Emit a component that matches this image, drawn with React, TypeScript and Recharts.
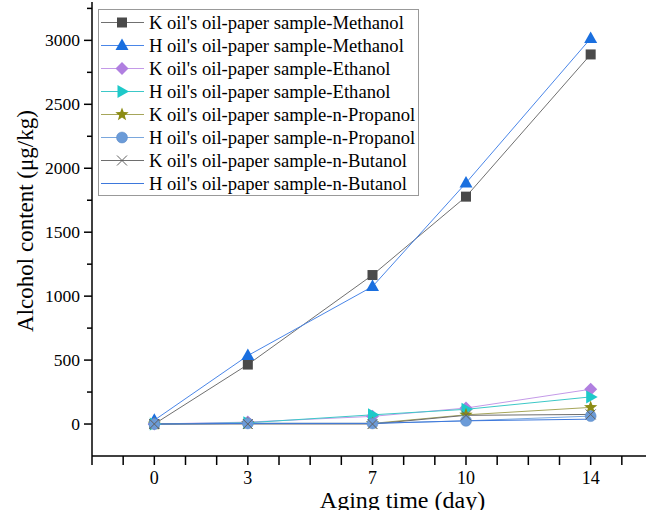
import React from 'react';
import { LineChart, Line, XAxis, YAxis, Legend } from 'recharts';

const days = [0, 3, 7, 10, 14];
const kMethanol = [0, 465, 1165, 1778, 2890];
const hMethanol = [30, 535, 1075, 1885, 3015];
const kEthanol = [0, 15, 60, 125, 272];
const hEthanol = [0, 10, 72, 115, 212];
const kPropanol = [0, 5, 5, 72, 130];
const hPropanol = [0, 5, 5, 25, 62];
const kButanol = [0, 0, 0, 68, 75];
const hButanol = [0, 5, 5, 25, 38];

const xTicks = [-2, -1, 0, 1, 2, 3, 4, 5, 6, 7, 8, 9, 10, 11, 12, 13, 14, 15];
const xLabels = [0, 3, 7, 10, 14];
const yTicks = [0, 250, 500, 750, 1000, 1250, 1500, 1750, 2000, 2250, 2500, 2750, 3000, 3250];

const FONT = '"Liberation Serif", "Times New Roman", serif';

const series = [
  { key: 'kMethanol', name: "K oil's oil-paper sample-Methanol", values: kMethanol, line: '#707070', shape: 'square' },
  { key: 'hMethanol', name: "H oil's oil-paper sample-Methanol", values: hMethanol, line: '#4a86e8', shape: 'triangle' },
  { key: 'kEthanol', name: "K oil's oil-paper sample-Ethanol", values: kEthanol, line: '#c49ae8', shape: 'diamond' },
  { key: 'hEthanol', name: "H oil's oil-paper sample-Ethanol", values: hEthanol, line: '#3cc8c8', shape: 'right' },
  { key: 'kPropanol', name: "K oil's oil-paper sample-n-Propanol", values: kPropanol, line: '#a6a65a', shape: 'star' },
  { key: 'hPropanol', name: "H oil's oil-paper sample-n-Propanol", values: hPropanol, line: '#7aa7dd', shape: 'sphere' },
  { key: 'kButanol', name: "K oil's oil-paper sample-n-Butanol", values: kButanol, line: '#6e6e6e', shape: 'cross' },
  { key: 'hButanol', name: "H oil's oil-paper sample-n-Butanol", values: hButanol, line: '#3d78dc', shape: 'none' },
];

const data = days.map((day, i) => {
  const row: any = { day };
  series.forEach((s) => (row[s.key] = s.values[i]));
  return row;
});

function starPoints(cx: number, cy: number, r: number) {
  const pts: string[] = [];
  for (let i = 0; i < 10; i++) {
    const rad = i % 2 === 0 ? r : r * 0.42;
    const a = -Math.PI / 2 + (i * Math.PI) / 5;
    pts.push(`${cx + rad * Math.cos(a)},${cy + rad * Math.sin(a)}`);
  }
  return pts.join(' ');
}

function Marker({ shape, cx, cy }: { shape: string; cx: number; cy: number }) {
  if (cx == null || cy == null) return null;
  switch (shape) {
    case 'square':
      return <rect x={cx - 5} y={cy - 5} width={10} height={10} fill="#4a4a4a" />;
    case 'triangle':
      return <polygon points={`${cx},${cy - 7} ${cx + 6.5},${cy + 4.5} ${cx - 6.5},${cy + 4.5}`} fill="#1a6fdf" />;
    case 'diamond':
      return <polygon points={`${cx},${cy - 6.5} ${cx + 6.5},${cy} ${cx},${cy + 6.5} ${cx - 6.5},${cy}`} fill="#b07fe0" />;
    case 'right':
      return <polygon points={`${cx + 7},${cy} ${cx - 4.5},${cy - 6.5} ${cx - 4.5},${cy + 6.5}`} fill="#1ec9c9" />;
    case 'star':
      return <polygon points={starPoints(cx, cy, 7)} fill="#8c8c14" />;
    case 'sphere':
      return <circle cx={cx} cy={cy} r={5.5} fill="#6b9bd8" stroke="#5a88c4" strokeWidth={0.5} />;
    case 'cross':
      return (
        <g stroke="#606060" strokeWidth={1}>
          <line x1={cx - 5} y1={cy - 5} x2={cx + 5} y2={cy + 5} />
          <line x1={cx - 5} y1={cy + 5} x2={cx + 5} y2={cy - 5} />
        </g>
      );
    default:
      return null;
  }
}

const XTick = ({ x, y, payload }: any) => (
  <g>
    <line x1={x} x2={x} y1={y} y2={y + 9} stroke="#000" strokeWidth={1.5} />
    {xLabels.includes(payload.value) && (
      <text x={x} y={y + 28} textAnchor="middle" fontSize={18} fontFamily={FONT} fill="#000">
        {payload.value}
      </text>
    )}
  </g>
);

const YTick = ({ x, y, payload }: any) => {
  const major = payload.value % 500 === 0;
  return (
    <g>
      <line x1={x - (major ? 8 : 5)} x2={x} y1={y} y2={y} stroke="#000" strokeWidth={1.5} />
      {major && (
        <text x={x - 12} y={y} textAnchor="end" dominantBaseline="central" fontSize={17.5} fontFamily={FONT} fill="#000">
          {payload.value}
        </text>
      )}
    </g>
  );
};

const YLabel = ({ viewBox }: any) => {
  const { x, y, height } = viewBox;
  return (
    <text
      transform={`translate(${x + 25},${y + height / 2 - 8}) rotate(-90)`}
      textAnchor="middle"
      dominantBaseline="central"
      fontSize={23}
      fontFamily={FONT}
      fill="#000"
    >
      Alcohol content (μg/kg)
    </text>
  );
};

const LegendBox = () => (
  <div
    style={{
      border: '1.5px solid #999',
      background: '#fff',
      padding: '1px 3px 0 2px',
      fontFamily: FONT,
      fontSize: 18.6,
      lineHeight: '23px',
      color: '#000',
    }}
  >
    {series.map((s) => (
      <div key={s.key} style={{ display: 'flex', alignItems: 'center', height: 23 }}>
        <svg width={44} height={23} style={{ flex: 'none', marginRight: 4 }}>
          <line x1={0} x2={43} y1={11.5} y2={11.5} stroke={s.line} strokeWidth={1.2} />
          <Marker shape={s.shape} cx={21} cy={11.5} />
        </svg>
        <span style={{ whiteSpace: 'nowrap' }}>{s.name}</span>
      </div>
    ))}
  </div>
);

export default function App() {
  return (
    <div style={{ position: 'fixed', left: 0, top: 0, width: 646, height: 510, overflow: 'hidden', background: '#fff' }}>
      <LineChart width={680} height={510} data={data} margin={{ top: 2, right: 27, left: 0, bottom: 0 }}>
        <XAxis
          dataKey="day"
          type="number"
          domain={[-2, 16]}
          ticks={xTicks}
          interval={0}
          allowDataOverflow
          tickLine={false}
          tickSize={0}
          tickMargin={0}
          height={54}
          axisLine={{ stroke: '#000', strokeWidth: 1.5 }}
          tick={<XTick />}
          label={{
            value: 'Aging time (day)',
            position: 'insideBottom',
            offset: 2,
            dx: 30,
            fontSize: 24,
            fontFamily: FONT,
            fill: '#000',
          }}
        />
        <YAxis
          type="number"
          domain={[-250, 3300]}
          ticks={yTicks}
          interval={0}
          allowDataOverflow
          width={92}
          tickLine={false}
          tickSize={0}
          tickMargin={0}
          axisLine={{ stroke: '#000', strokeWidth: 1.5 }}
          tick={<YTick />}
          label={<YLabel />}
        />
        <Legend
          verticalAlign="middle"
          align="center"
          layout="vertical"
          wrapperStyle={{ left: 98, top: 9, width: 'auto' }}
          content={() => <LegendBox />}
        />
        {series.map((s) => (
          <Line
            key={s.key}
            type="linear"
            dataKey={s.key}
            name={s.name}
            stroke={s.line}
            strokeWidth={1}
            isAnimationActive={false}
            activeDot={false}
            dot={(p: any) => <Marker key={`${s.key}-${p.index}`} shape={s.shape} cx={p.cx} cy={p.cy} />}
          />
        ))}
      </LineChart>
    </div>
  );
}
